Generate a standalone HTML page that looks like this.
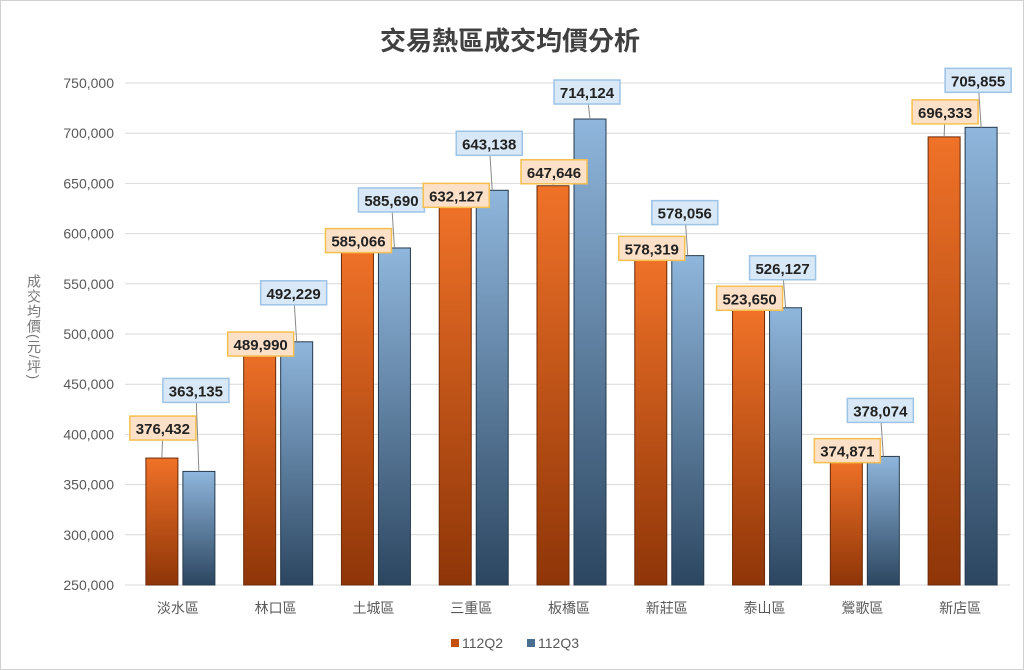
<!DOCTYPE html>
<html><head><meta charset="utf-8"><style>
html,body{margin:0;padding:0;background:#fff;}
svg{display:block;font-family:"Liberation Sans","Noto Sans CJK TC",sans-serif;}
</style></head><body>
<svg id="chart" width="1024" height="670" viewBox="0 0 1024 670" xmlns="http://www.w3.org/2000/svg">
<defs>
<linearGradient id="go" x1="0" y1="0" x2="0" y2="1"><stop offset="0" stop-color="#f07228"/><stop offset="1" stop-color="#8e3508"/></linearGradient>
<linearGradient id="gb" x1="0" y1="0" x2="0" y2="1"><stop offset="0" stop-color="#8fb6dc"/><stop offset="1" stop-color="#2c4660"/></linearGradient>
</defs>
<rect x="0.5" y="0.5" width="1023" height="669" fill="#fff" stroke="#d0d0d0"/>
<text x="510" y="50" text-anchor="middle" font-size="26" font-weight="bold" fill="#404040">交易熱區成交均價分析</text>
<text x="34" y="274" font-size="14" letter-spacing="1" fill="#777" style="writing-mode:vertical-rl;">成交均價(元/坪)</text>
<g id="grid"></g><g id="bars"></g><g id="labels"></g>
<g>
<rect x="451" y="639" width="8" height="8" fill="#c4500f"/>
<text x="462" y="648" font-size="14" fill="#595959">112Q2</text>
<rect x="527" y="639" width="8" height="8" fill="#4a6e92"/>
<text x="538" y="648" font-size="14" fill="#595959">112Q3</text>
</g>
</svg>
<script>
const categories=["淡水區","林口區","土城區","三重區","板橋區","新莊區","泰山區","鶯歌區","新店區"];
const q2=[376432,489990,585066,632127,647646,578319,523650,374871,696333];
const q3=[363135,492229,585690,643138,714124,578056,526127,378074,705855];
const yTicks=[250000,300000,350000,400000,450000,500000,550000,600000,650000,700000,750000];
const q2LabelLift=[30,0,8,6,14,7,12,9,25];
const q3LabelLift=[81,49,48,47,27,43,40,46,47];
const NS="http://www.w3.org/2000/svg";
const x0=131,x1=1011,band=(x1-x0)/categories.length;
function y(v){return 585-(v-250000)*(502/500000);}
function xc(i){return x0+band*(i+0.5);}
function mk(t,a,p){const e=document.createElementNS(NS,t);for(const k in a)e.setAttribute(k,a[k]);p.appendChild(e);return e;}
function fmt(v){return v.toLocaleString('en-US');}
const grid=document.getElementById('grid'),bars=document.getElementById('bars'),labels=document.getElementById('labels');
yTicks.forEach(t=>{
  const l=mk('line',{x1:125,x2:1010,y1:y(t),y2:y(t),stroke:'#d9d9d9','stroke-width':1},grid);
  
  
  const tx=mk('text',{x:114,y:y(t)+5,'text-anchor':'end','font-size':14,fill:'#595959'},grid);
  tx.textContent=fmt(t);
  
  
});
function label(cx,cy,val,fill,stroke,bx,by){
  mk('line',{x1:cx,y1:cy,x2:bx,y2:by,stroke:'#8a8a8a','stroke-width':1},labels);
  const r=mk('rect',{x:cx-33,y:cy-12,width:66,height:24,fill:fill,stroke:stroke,'stroke-width':1.5},labels);
  
  
  const t=mk('text',{x:cx,y:cy+6,'text-anchor':'middle','font-size':15,'font-weight':'bold',fill:'#222'},labels);
  t.textContent=fmt(val);
  
  
}
categories.forEach((c,i)=>{
  const c0=xc(i);
  const ox=c0-34,bx=c0+3,w=32;
  const b1=mk('rect',{x:ox,y:y(q2[i]),width:w,height:585-y(q2[i]),fill:'url(#go)',stroke:'#6b2a08','stroke-width':1},bars);
  
  
  const b2=mk('rect',{x:bx,y:y(q3[i]),width:w,height:585-y(q3[i]),fill:'url(#gb)',stroke:'#26394d','stroke-width':1},bars);
  
  
  const t=mk('text',{x:c0-2,y:613,'text-anchor':'middle','font-size':14,fill:'#595959'},bars);
  t.textContent=c;
  
  
  label(ox+w/2+1,y(q2[i])-q2LabelLift[i],q2[i],'#fde0c8','#f5c050',ox+w/2,y(q2[i]));
  label(bx+w/2-3,y(q3[i])-q3LabelLift[i],q3[i],'#d8e8f6','#9dc3e6',bx+w/2,y(q3[i]));
});
</script>
</body></html>
